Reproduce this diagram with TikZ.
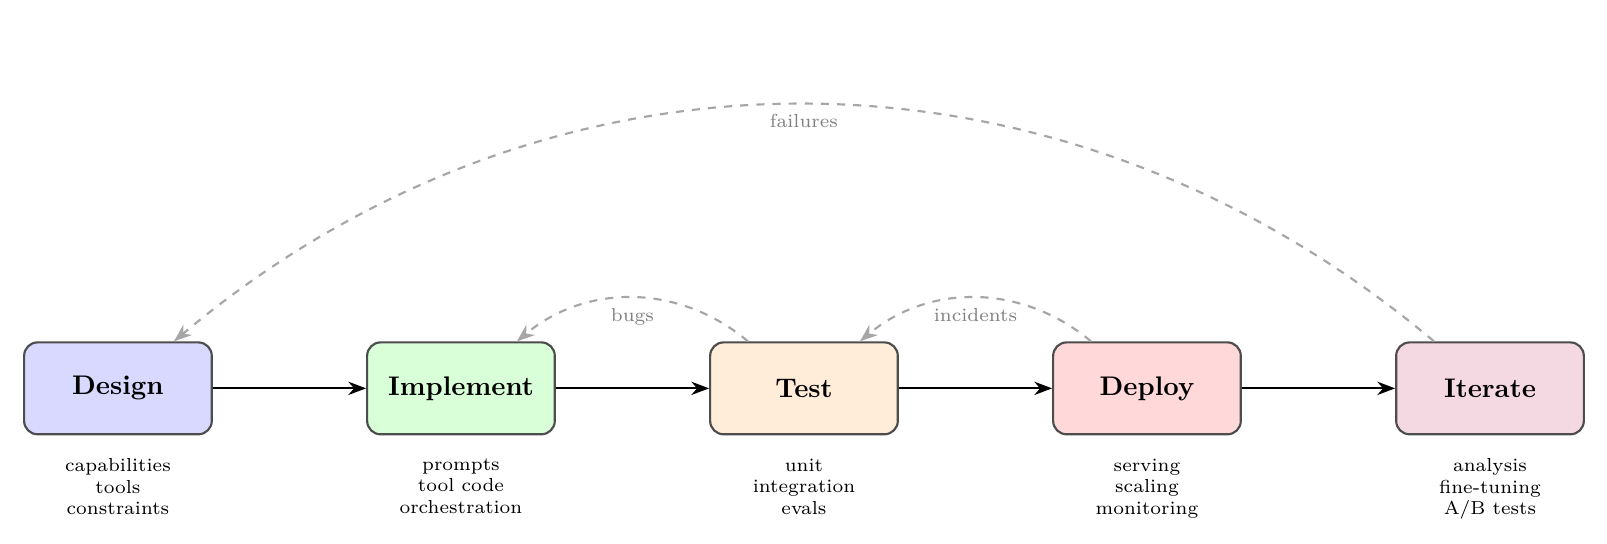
\documentclass[tikz,border=0pt]{standalone}
\usepackage{tikz}
\usetikzlibrary{arrows.meta,positioning}
\definecolor{lcblue}{HTML}{D9D9FF}
\definecolor{lcgreen}{HTML}{D9FFD9}
\definecolor{lcpeach}{HTML}{FFECD9}
\definecolor{lcred}{HTML}{FFD9D9}
\definecolor{lcmauve}{HTML}{F5D9E2}
\definecolor{lcedge}{HTML}{4D4D4D}
\definecolor{lcback}{HTML}{A6A6A6}
\definecolor{lcgray}{HTML}{808080}

\begin{document}
\begin{tikzpicture}[>=Stealth,
    stage/.style={draw=lcedge,thick,rounded corners=5pt,minimum width=2.45cm,minimum height=1.2cm,font=\bfseries},
    note/.style={font=\scriptsize,align=center},
    fback/.style={->,lcback,thick,dashed}]
    \useasboundingbox (-1.54,-2.02) rectangle (19.44,5.07);
    \node[stage,fill=lcblue] (design) at (0,0) {Design};
    \node[stage,fill=lcgreen,right=2cm of design] (impl) {Implement};
    \node[stage,fill=lcpeach,right=2cm of impl] (test) {Test};
    \node[stage,fill=lcred,right=2cm of test] (deploy) {Deploy};
    \node[stage,fill=lcmauve,right=2cm of deploy] (iter) {Iterate};
    % what goes into each stage
    \node[note,below=0.18cm of design] (ndesign) {capabilities\\tools\\constraints};
    \node[note,below=0.18cm of impl] (nimpl) {prompts\\tool code\\orchestration};
    \node[note,below=0.18cm of test] (ntest) {unit\\integration\\evals};
    \node[note,below=0.18cm of deploy] (ndeploy) {serving\\scaling\\monitoring};
    \node[note,below=0.18cm of iter] (niter) {analysis\\fine-tuning\\A/B tests};
    \draw[->,thick] (design)--(impl);
    \draw[->,thick] (impl)--(test);
    \draw[->,thick] (test)--(deploy);
    \draw[->,thick] (deploy)--(iter);
    % feedback
    \draw[fback] (test) to[bend right=40] node[midway,below,lcgray,font=\scriptsize]{bugs} (impl);
    \draw[fback] (deploy) to[bend right=40] node[midway,below,lcgray,font=\scriptsize]{incidents} (test);
    \draw[fback] (iter) to[bend right=40] node[midway,below,lcgray,font=\scriptsize]{failures} (design);
\end{tikzpicture}
\end{document}
